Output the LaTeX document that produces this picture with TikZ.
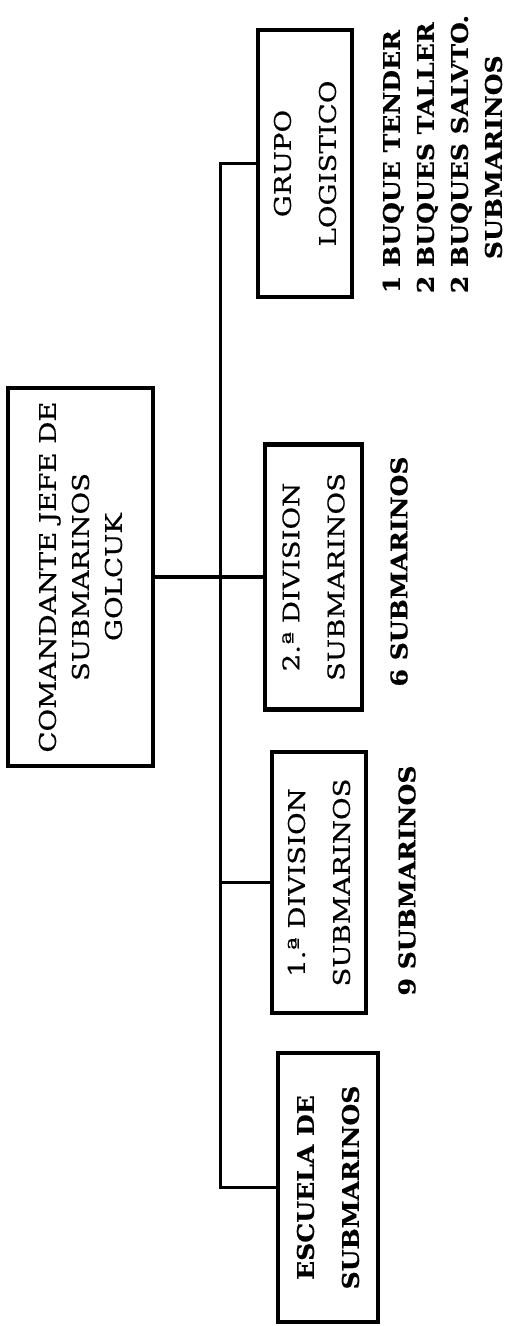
\documentclass[tikz,border=0pt]{standalone}
\usepackage{fontspec}
\setmainfont{DejaVu Serif}[FakeStretch=1.2, FakeBold=0.6, BoldFeatures={FakeStretch=1.09}]
\usetikzlibrary{positioning}

\begin{document}
\begin{tikzpicture}[
        x=0.5pt, y=-0.5pt,
        every node/.style={rotate=90, align=center, font=\fontsize{11.5}{22.5}\selectfont},
        every path/.style={line width=1.6pt},
        unit/.style={draw, line width=2.2pt, inner sep=0pt},
        note/.style={inner sep=0pt, font=\bfseries\fontsize{11.5}{17}\selectfont}
    ]
    \useasboundingbox (0,0) rectangle (506,1326);

    % Nodes
    \node[unit, minimum width=189pt, minimum height=72.5pt, font=\fontsize{11.5}{16.5}\selectfont] (jefe) at (80.5,577)
        {COMANDANTE JEFE DE\\SUBMARINOS\\GOLCUK};
    \node[unit, minimum width=133.5pt, minimum height=47pt] (logist) at (305,163.5) {GRUPO\\LOGISTICO};
    \node[unit, minimum width=132.5pt, minimum height=48.5pt] (div2) at (313.5,577) {2.ª DIVISION\\SUBMARINOS};
    \node[unit, minimum width=130.5pt, minimum height=47pt] (div1) at (319,882.5) {1.ª DIVISION\\SUBMARINOS};
    \node[unit, minimum width=134.5pt, minimum height=50pt, font=\bfseries\fontsize{11.5}{22.5}\selectfont] (escuela) at (328,1187.5)
        {ESCUELA DE\\SUBMARINOS};

    % Notes
    \node[note, align=left] (notelog) at (442.5,154)
        {1 BUQUE TENDER\\2 BUQUES TALLER\\2 BUQUES SALVTO.\\\hspace*{17pt}SUBMARINOS};
    \node[note] (note2) at (399,571.5) {6 SUBMARINOS};
    \node[note] (note1) at (407,880.5) {9 SUBMARINOS};

    % Edges
    \draw (jefe.south) -- (div2.north);
    \draw (logist.north) -- ++(-35,0) coordinate (trunk) |- (escuela.north);
    \draw (div1.north) -- (div1.north -| trunk);

\end{tikzpicture}
\end{document}
